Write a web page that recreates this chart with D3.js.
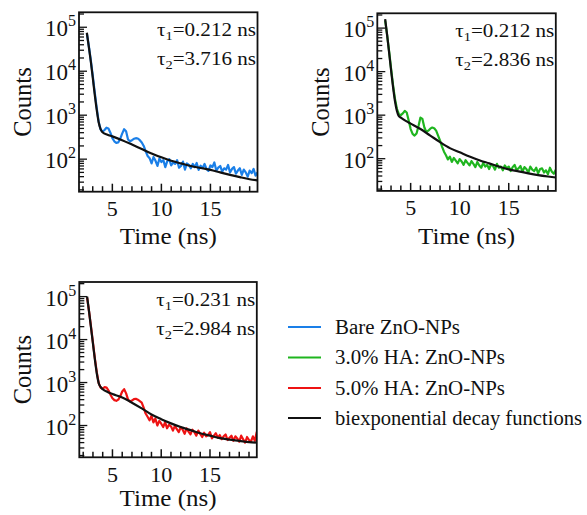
<!DOCTYPE html>
<html>
<head>
<meta charset="utf-8">
<script src="https://cdn.jsdelivr.net/npm/d3@7"></script>
<style>
  body { margin: 0; background: #fff; }
</style>
</head>
<body>
<div id="chart"></div>
<script>
// sampling grid of the decay traces (ns)
var traceStart = 2.4, traceStep = 0.2;

// measured counts, 5 samples per ns
var bareCounts = [
    72000, 38000, 18000, 8000, 3400,
    1500, 720, 480, 420, 460,
    520, 500, 400, 300, 255,
    235, 240, 290, 380, 480,
    430, 280, 255, 270, 290,
    300, 295, 270, 240, 200,
    150, 118, 105, 80, 112,
    92, 70, 104, 86, 95,
    66, 90, 100, 72, 84,
    78, 95, 64, 70, 88,
    58, 80, 74, 62, 78,
    66, 82, 57, 71, 63,
    78, 60, 54, 72, 66,
    84, 55, 64, 70, 52,
    62, 58, 74, 50, 60,
    66, 47, 55, 62, 44,
    58, 50, 40, 55, 48,
    60, 42, 50
];
var ha3Counts = [
    150000, 70000, 30000, 12000, 5000,
    2400, 1400, 1050, 1000, 1100,
    1250, 1150, 750, 480, 370,
    340, 380, 560, 880, 820,
    520, 410, 440, 490, 520,
    500, 440, 340, 260, 190,
    145, 120, 96, 112, 84,
    104, 90, 78, 98, 86,
    72, 92, 80, 70, 88,
    76, 64, 84, 70, 62,
    80, 66, 72, 58, 74,
    68, 56, 76, 62, 66,
    54, 70, 60, 66, 52,
    64, 72, 55, 60, 68,
    50, 64, 58, 48, 66,
    56, 52, 62, 46, 58,
    60, 48, 54, 44, 62,
    50, 45, 56
];
var ha5Counts = [
    95000, 45000, 20000, 8500, 3600,
    1700, 950, 760, 720, 780,
    760, 650, 520, 430, 390,
    375, 400, 480, 620, 700,
    560, 400, 365, 380, 410,
    420, 400, 370, 340, 260,
    190, 160, 132, 168, 118,
    146, 100, 128, 110, 92,
    120, 86, 104, 96, 76,
    98, 82, 70, 92, 80,
    64, 86, 72, 62, 80,
    70, 58, 76, 64, 54,
    68, 56, 60, 70, 50,
    58, 66, 52, 60, 48,
    56, 62, 46, 52, 58,
    44, 56, 50, 42, 58,
    48, 40, 54, 46, 42,
    56, 44, 72
];

// biexponential fits
var fitTimes = [2.4, 2.6, 2.8, 3.0, 3.2, 3.4, 3.6, 3.8, 4.0, 4.5, 5, 6, 7, 8, 9, 10, 11, 12, 13, 14, 15, 16, 17, 18, 19, 19.8];
var bareFit = [75000, 36000, 17000, 7200, 3000, 1350, 700, 480, 410, 360, 330, 270, 215, 170, 135, 110, 92, 80, 70, 63, 57, 50, 44, 39, 35, 33];
var ha3Fit = [160000, 70000, 28000, 11000, 4500, 2100, 1250, 950, 880, 740, 640, 480, 340, 240, 175, 140, 112, 92, 78, 66, 57, 51, 46, 42, 39, 37];
var ha5Fit = [100000, 45000, 19000, 8000, 3400, 1600, 950, 780, 700, 600, 540, 450, 340, 250, 180, 140, 112, 92, 78, 66, 58, 51, 47, 44, 41, 40];

var tau1Labels = ["0.212", "0.212", "0.231"];
var tau2Labels = ["3.716", "2.836", "2.984"];
var xTickLabels = [5, 10, 15];
var legendLabels = ["Bare ZnO-NPs", "3.0% HA: ZnO-NPs", "5.0% HA: ZnO-NPs", "biexponential decay functions"];
var seriesColors = ["#1a7fe8", "#1fb51f", "#ee1313", "#111111"];

var W = 587, H = 515;
var svg = d3.select("#chart").append("svg").attr("width", W).attr("height", H)
    .attr("font-family", "'Liberation Serif', 'Times New Roman', serif")
    .attr("fill", "#111");

var panels = [
    { left: 79, top: 12.3, w: 178.5, h: 179.4, counts: bareCounts, fit: bareFit, color: seriesColors[0], titleOff: 52 },
    { left: 377.3, top: 13.3, w: 178.5, h: 177.6, counts: ha3Counts, fit: ha3Fit, color: seriesColors[1], titleOff: 53 },
    { left: 79.3, top: 282, w: 177.5, h: 175.3, counts: ha5Counts, fit: ha5Fit, color: seriesColors[2], titleOff: 48.5 }
];

panels.forEach(function(p, k) {
    var g = svg.append("g").attr("transform", "translate(" + p.left + "," + p.top + ")");
    var x = d3.scaleLinear().domain([1.6, 19.8]).range([0, p.w]);
    var y = d3.scaleLog().domain([Math.pow(10, 1.26), Math.pow(10, 5.34)]).range([p.h, 0]);

    g.append("clipPath").attr("id", "clip" + k)
        .append("rect").attr("width", p.w).attr("height", p.h);

    var pts = p.counts.map(function(c, i) { return [traceStart + i * traceStep, c]; });
    var line = d3.line().x(function(d) { return x(d[0]); }).y(function(d) { return y(d[1]); });

    g.append("path").datum(pts)
        .attr("clip-path", "url(#clip" + k + ")")
        .attr("fill", "none").attr("stroke", p.color).attr("stroke-width", 2.2)
        .attr("stroke-linejoin", "round")
        .attr("d", line);

    var fitPts = fitTimes.map(function(t, i) { return [t, p.fit[i]]; });
    g.append("path").datum(fitPts)
        .attr("clip-path", "url(#clip" + k + ")")
        .attr("fill", "none").attr("stroke", "#111").attr("stroke-width", 2.2)
        .attr("d", line.curve(d3.curveMonotoneX));

    // y ticks: decades + minor
    var yTicks = [];
    for (var e = 1; e <= 5; e++) {
        for (var m = 1; m <= 9; m++) {
            var v = m * Math.pow(10, e);
            if (v >= y.domain()[0] && v <= y.domain()[1]) yTicks.push({ v: v, major: m == 1 });
        }
    }
    g.selectAll(".yt").data(yTicks).enter().append("line")
        .attr("x1", 0).attr("x2", function(d) { return d.major ? 8 : 5; })
        .attr("y1", function(d) { return y(d.v); }).attr("y2", function(d) { return y(d.v); })
        .attr("stroke", "#111").attr("stroke-width", 1.3);

    var yl = g.selectAll(".yl").data(yTicks.filter(function(d) { return d.major; })).enter().append("text")
        .attr("x", -3).attr("y", function(d) { return y(d.v) + 9; })
        .attr("text-anchor", "end");
    yl.append("tspan").attr("font-size", 23).text("10");
    yl.append("tspan").attr("font-size", 16).attr("dy", -10).text(function(d) { return Math.round(Math.log10(d.v)); });

    // x ticks
    var xTicks = d3.range(2, 20, 1);
    g.selectAll(".xt").data(xTicks).enter().append("line")
        .attr("x1", function(d) { return x(d); }).attr("x2", function(d) { return x(d); })
        .attr("y1", p.h).attr("y2", function(d) { return p.h - (d % 5 == 0 ? 8 : 5.5); })
        .attr("stroke", "#111").attr("stroke-width", 1.5);
    g.selectAll(".xl").data(xTickLabels).enter().append("text")
        .attr("x", function(d) { return x(d); }).attr("y", p.h + 24.5)
        .attr("text-anchor", "middle").attr("font-size", 22)
        .text(function(d) { return d; });

    g.append("rect").attr("width", p.w).attr("height", p.h)
        .attr("fill", "none").attr("stroke", "#111").attr("stroke-width", 1.8);

    g.append("text").attr("x", p.w / 2).attr("y", p.h + p.titleOff)
        .attr("text-anchor", "middle").attr("font-size", 24)
        .attr("textLength", 97).attr("lengthAdjust", "spacingAndGlyphs")
        .text("Time (ns)");
    g.append("text")
        .attr("transform", "translate(-48," + (p.h / 2) + ") rotate(-90)")
        .attr("text-anchor", "middle").attr("font-size", 24.5)
        .text("Counts");

    [tau1Labels[k], tau2Labels[k]].forEach(function(val, j) {
        var t = g.append("text").attr("x", p.w - 1.5).attr("y", 24 + j * 28.5)
            .attr("text-anchor", "end").attr("font-size", 19)
            .attr("textLength", 99).attr("lengthAdjust", "spacingAndGlyphs");
        t.append("tspan").text("\u03c4");
        t.append("tspan").attr("font-size", 13).attr("dy", 4).text(j + 1);
        t.append("tspan").attr("dy", -4).text("=" + val + " ns");
    });
});

// legend
var legendY = [327, 357.5, 388, 418];
var legendW = [125, 170, 170, 247];
var lg = svg.append("g");
legendLabels.forEach(function(lab, i) {
    lg.append("line").attr("x1", 288).attr("x2", 321)
        .attr("y1", legendY[i]).attr("y2", legendY[i])
        .attr("stroke", seriesColors[i]).attr("stroke-width", 2);
    lg.append("text").attr("x", 335).attr("y", legendY[i] + 6.5)
        .attr("font-size", 20)
        .attr("textLength", legendW[i]).attr("lengthAdjust", "spacingAndGlyphs")
        .text(lab);
});
</script>
</body>
</html>
